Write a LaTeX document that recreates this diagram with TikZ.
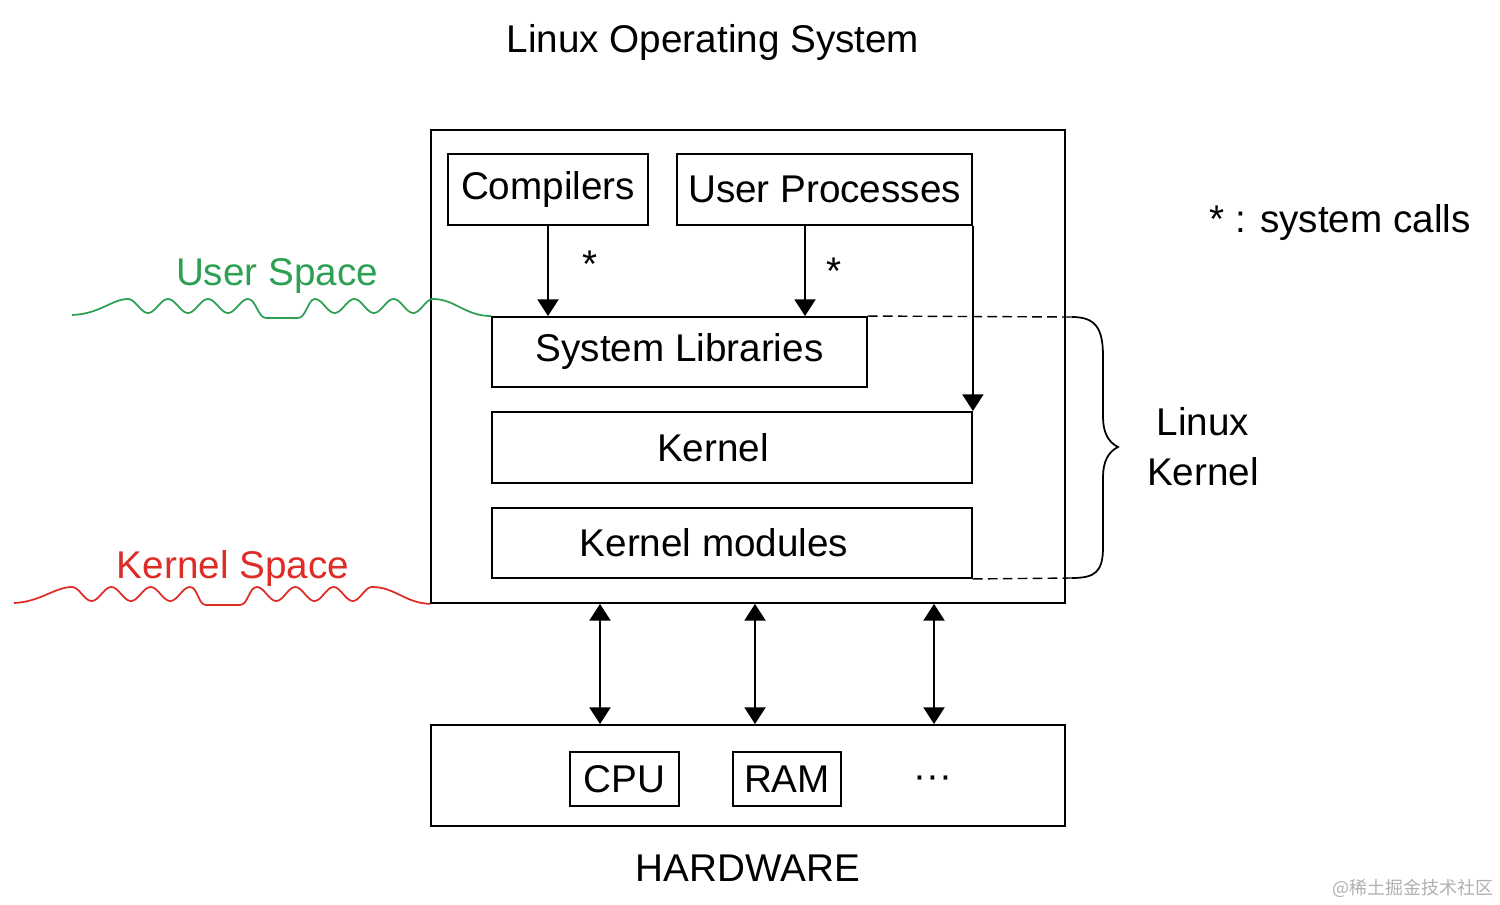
\documentclass[tikz,border=0pt]{standalone}
\usepackage{fontspec}
\setmainfont{Liberation Sans}
\newfontfamily\cjk{Noto Sans CJK SC}
\usetikzlibrary{arrows.meta, positioning}

\definecolor{verde}{RGB}{46,160,84}
\definecolor{rojo}{RGB}{222,44,38}
\definecolor{marca}{RGB}{175,175,175}

\tikzset{
	caja/.style={draw, line width=1.1pt, inner sep=0pt},
	flecha/.style={line width=1pt, -{Triangle[length=9.5pt, width=12pt]}},
	doble/.style={line width=1pt, {Triangle[length=9.5pt, width=12pt]}-{Triangle[length=9.5pt, width=12pt]}},
	texto/.style={font=\fontsize{22}{28.5}\selectfont},
	onda/.style={line width=1pt, line join=round}
}

\begin{document}
\begin{tikzpicture}[x=0.02cm, y=-0.02cm, texto]
		\useasboundingbox (0,0) rectangle (1500,905);
		
		% Cajas
		\node[caja, minimum width=12.68cm, minimum height=9.46cm] (os) at (748,366.5) {};
		\node[caja, minimum width=4cm, minimum height=1.42cm] (comp) at (548,189.5) {Compilers};
		\node[caja, minimum width=5.9cm, minimum height=1.42cm] (proc) at (824.5,189.5) {User Processes};
		\node[caja, minimum width=7.5cm, minimum height=1.4cm] (lib) at (679.5,352) {System Libraries};
		\node[caja, minimum width=9.6cm, minimum height=1.42cm, label={[xshift=-0.38cm]center:Kernel}] (kern) at (732,447.5) {};
		\node[caja, minimum width=9.6cm, minimum height=1.4cm, label={[xshift=-0.36cm]center:Kernel modules}] (mods) at (732,543) {};
		\node[caja, minimum width=12.68cm, minimum height=2.02cm] (hw) at (748,775.5) {};
		\node[caja, line width=.9pt, minimum width=2.18cm, minimum height=1.08cm] (cpu) at (624.5,779) {CPU};
		\node[caja, line width=.9pt, minimum width=2.16cm, minimum height=1.08cm] (ram) at (787,779) {RAM};
		\node (dots) at (933,782) {···};
		
		% Textos
		\node (title) at (713,43) {Linux Operating System};
		\node (hwname) at (748,868) {HARDWARE};
		\node (nota) at (1340,223) {* : system calls};
		\node[align=center] (lk) at (1203,447) {Linux\\Kernel};
		\node[text=verde] (us) at (277,276) {User Space};
		\node[text=rojo] (ks) at (233,569) {Kernel Space};
		\node[text=marca, font=\cjk\fontsize{10.2}{12}\selectfont] (wm) at (1413,888) {@稀土掘金技术社区};
		
		% Flechas
		\coordinate (p1) at (805,0);
		\coordinate (b1) at (600,0);
		\coordinate (b2) at (755,0);
		\coordinate (b3) at (934,0);
		\draw[flecha] (comp) -- (comp |- lib.north) node[pos=.42, right=0.55cm]{*};
		\draw[flecha] (proc.south -| p1) -- (lib.north -| p1) node[pos=.5, right=0.3cm]{*};
		\draw[flecha] (proc.south east) -- (kern.north east);
		\foreach \b in {b1, b2, b3}
			\draw[doble] (os.south -| \b) -- (hw.north -| \b);
		
		% Limites
		\draw[line width=.8pt, dash pattern=on 5.5pt off 3pt] (lib.north east) -- (1072,317);
		\draw[line width=.8pt, dash pattern=on 5.5pt off 3pt] (mods.south east) -- (1072,578);
		\draw[line width=1pt] (1072,317) .. controls (1097,317) and (1103,330) .. (1103,357) -- (1103,417)
			.. controls (1103,432) and (1108,442) .. (1118,447)
			.. controls (1108,452) and (1103,462) .. (1103,477) -- (1103,547)
			.. controls (1103,572) and (1095,578) .. (1072,578);
		
		% Ondas
		\draw[onda, verde] (72,315) .. controls (100,314) and (112,299) .. (128,299)
			-- plot[domain=0:3, samples=61, smooth] ({128+40*\x}, {306-7*cos(360*\x)})
			.. controls (256,299) and (258,318) .. (266,318) -- (298,318)
			.. controls (306,318) and (308,299) .. (315,299)
			-- plot[domain=0:3, samples=61, smooth] ({315+39.3*\x}, {306-7*cos(360*\x)})
			.. controls (455,299) and (465,316) .. (lib.north west);
		\draw[onda, rojo] (14,603) .. controls (40,602) and (55,587) .. (72,587)
			-- plot[domain=0:3, samples=61, smooth] ({72+39.3*\x}, {594-7*cos(360*\x)})
			.. controls (198,587) and (198,605) .. (206,605) -- (240,605)
			.. controls (248,605) and (249,587) .. (257,587)
			-- plot[domain=0:3, samples=61, smooth] ({257+38.3*\x}, {594-7*cos(360*\x)})
			.. controls (395,587) and (405,603) .. (os.south west);
	\end{tikzpicture}
\end{document}
